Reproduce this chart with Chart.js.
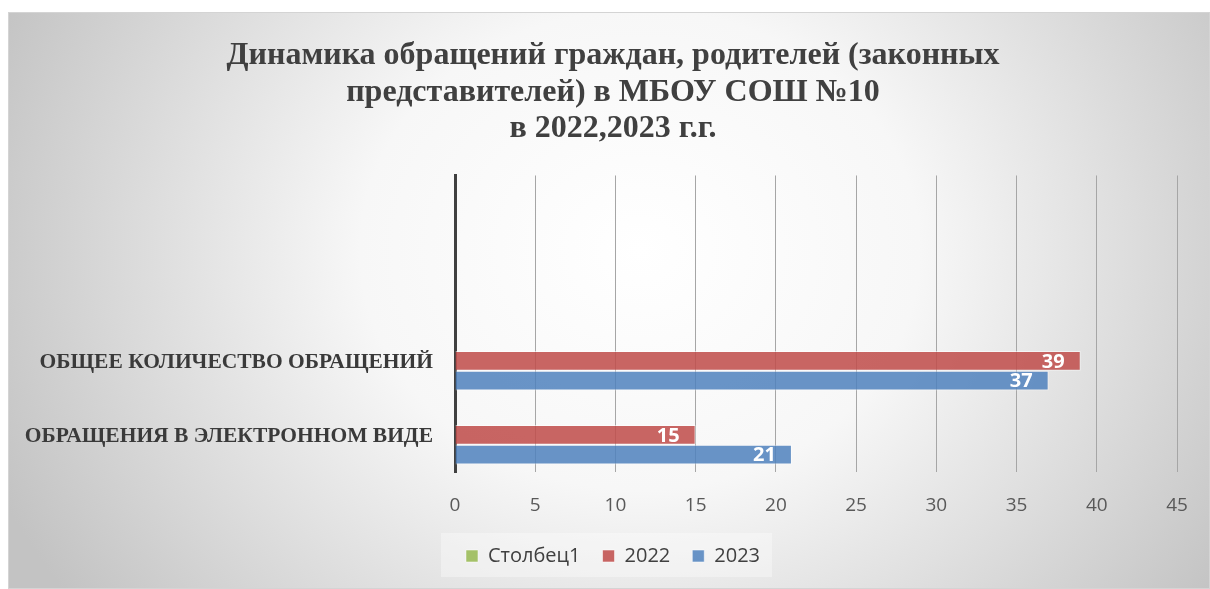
<!DOCTYPE html>
<html>
<head>
<meta charset="utf-8">
<script src="https://cdn.jsdelivr.net/npm/chart.js@4/dist/chart.umd.min.js"></script>
<style>
  html, body { margin: 0; padding: 0; background: #ffffff; }
  #wrap { width: 1210px; height: 589px; }
</style>
</head>
<body>
<div id="wrap"><canvas id="c" width="1210" height="589"></canvas></div>
<script>
const titleLines = ['Динамика обращений граждан, родителей (законных', 'представителей) в МБОУ СОШ №10', 'в 2022,2023 г.г.'];
const categories = ['', '', 'ОБЩЕЕ КОЛИЧЕСТВО ОБРАЩЕНИЙ', 'ОБРАЩЕНИЯ В ЭЛЕКТРОННОМ ВИДЕ'];
const seriesNames = ['Столбец1', '2022', '2023'];
const valuesCol1 = [null, null, null, null];
const values2022 = [null, null, 39, 15];
const values2023 = [null, null, 37, 21];
const xMin = 0, xMax = 45, xStep = 5;

const bgPlugin = {
  id: 'bgPlugin',
  beforeDraw(chart) {
    const ctx = chart.ctx;
    ctx.save();
    ctx.fillStyle = '#ffffff';
    ctx.fillRect(0, 0, chart.width, chart.height);
    const x0 = 8, y0 = 12, w = chart.width - 8, h = chart.height - 12;
    ctx.save();
    ctx.beginPath();
    ctx.rect(x0, y0, w, h);
    ctx.clip();
    ctx.translate(640, 250);
    ctx.scale(700 / 600, 1);
    const g = ctx.createRadialGradient(0, 0, 0, 0, 0, 600);
    g.addColorStop(0, '#ffffff');
    g.addColorStop(0.4, '#f7f7f7');
    g.addColorStop(1, '#c3c3c3');
    ctx.fillStyle = g;
    ctx.fillRect(-1000, -1000, 2000, 2000);
    ctx.restore();
    ctx.strokeStyle = '#d4d4d4';
    ctx.lineWidth = 1;
    ctx.strokeRect(x0 + 0.5, y0 + 0.5, w - 1, h - 1);
    // legend backdrop
    const lg = chart.legend;
    if (lg && lg.legendHitBoxes && lg.legendHitBoxes.length) {
      const hb = lg.legendHitBoxes;
      const l = hb[0].left - 25, r = hb[hb.length - 1].left + hb[hb.length - 1].width + 12;
      ctx.fillStyle = 'rgba(255,255,255,0.35)';
      ctx.fillRect(l, 533, r - l, 44);
    }
    ctx.restore();
  }
};

const labelPlugin = {
  id: 'labelPlugin',
  afterDatasetsDraw(chart) {
    const ctx = chart.ctx;
    ctx.save();
    ctx.font = 'bold 20px "Open Sans"';
    ctx.fillStyle = '#ffffff';
    ctx.textAlign = 'right';
    ctx.textBaseline = 'middle';
    chart.data.datasets.forEach((ds, di) => {
      const meta = chart.getDatasetMeta(di);
      meta.data.forEach((bar, i) => {
        const v = ds.data[i];
        if (v === null || v === undefined) return;
        ctx.fillText(String(v), bar.x - 16, bar.y + 1);
      });
    });
    ctx.restore();
  }
};

new Chart(document.getElementById('c'), {
  type: 'bar',
  data: {
    labels: categories,
    datasets: [
      { label: seriesNames[0], data: valuesCol1, backgroundColor: 'rgba(155,187,89,0.9)', borderColor: 'rgba(255,255,255,0.5)', borderWidth: 1 },
      { label: seriesNames[1], data: values2022, backgroundColor: 'rgba(192,80,77,0.88)', borderColor: 'rgba(255,255,255,0.55)', borderWidth: 1 },
      { label: seriesNames[2], data: values2023, backgroundColor: 'rgba(79,129,189,0.85)', borderColor: 'rgba(255,255,255,0.55)', borderWidth: 1 }
    ]
  },
  options: {
    indexAxis: 'y',
    responsive: false,
    animation: false,
    devicePixelRatio: 1,
    layout: { padding: { left: 0, right: -16, top: 0, bottom: 13 } },
    datasets: { bar: { categoryPercentage: 0.8, barPercentage: 1.0 } },
    scales: {
      x: {
        min: xMin, max: xMax,
        ticks: { stepSize: xStep, color: '#595959', font: { family: '"Open Sans"', size: 19 }, padding: 22 },
        grid: { color: '#a6a6a6', lineWidth: 1, drawTicks: false },
        border: { display: false },
        afterFit(scale) { scale.height = 52; }
      },
      y: {
        ticks: { color: '#3a3a3a', font: { family: '"Liberation Serif"', size: 21.5, weight: 'bold' }, padding: 22, autoSkip: false, labelOffset: 2 },
        grid: { display: false, drawTicks: false },
        border: { display: true, color: '#404040', width: 3 },
        afterFit(scale) { scale.width = 455; }
      },
      yRight: {
        type: 'category',
        axis: 'y',
        position: 'right',
        labels: categories,
        display: true,
        ticks: { display: false },
        grid: { display: false, drawTicks: false },
        border: { display: false },
        afterFit(scale) { scale.width = 49; }
      }
    },
    plugins: {
      title: {
        display: true,
        text: titleLines,
        color: '#404040',
        font: { family: '"Liberation Serif"', size: 32, weight: 'bold', lineHeight: 1.13 },
        padding: { top: 38, bottom: 29 }
      },
      legend: {
        display: true,
        position: 'bottom',
        labels: { color: '#404040', font: { family: '"Open Sans"', size: 20 }, boxWidth: 12, boxHeight: 12, padding: 22 }
      },
      tooltip: { enabled: false }
    }
  },
  plugins: [bgPlugin, labelPlugin]
});
</script>
</body>
</html>
